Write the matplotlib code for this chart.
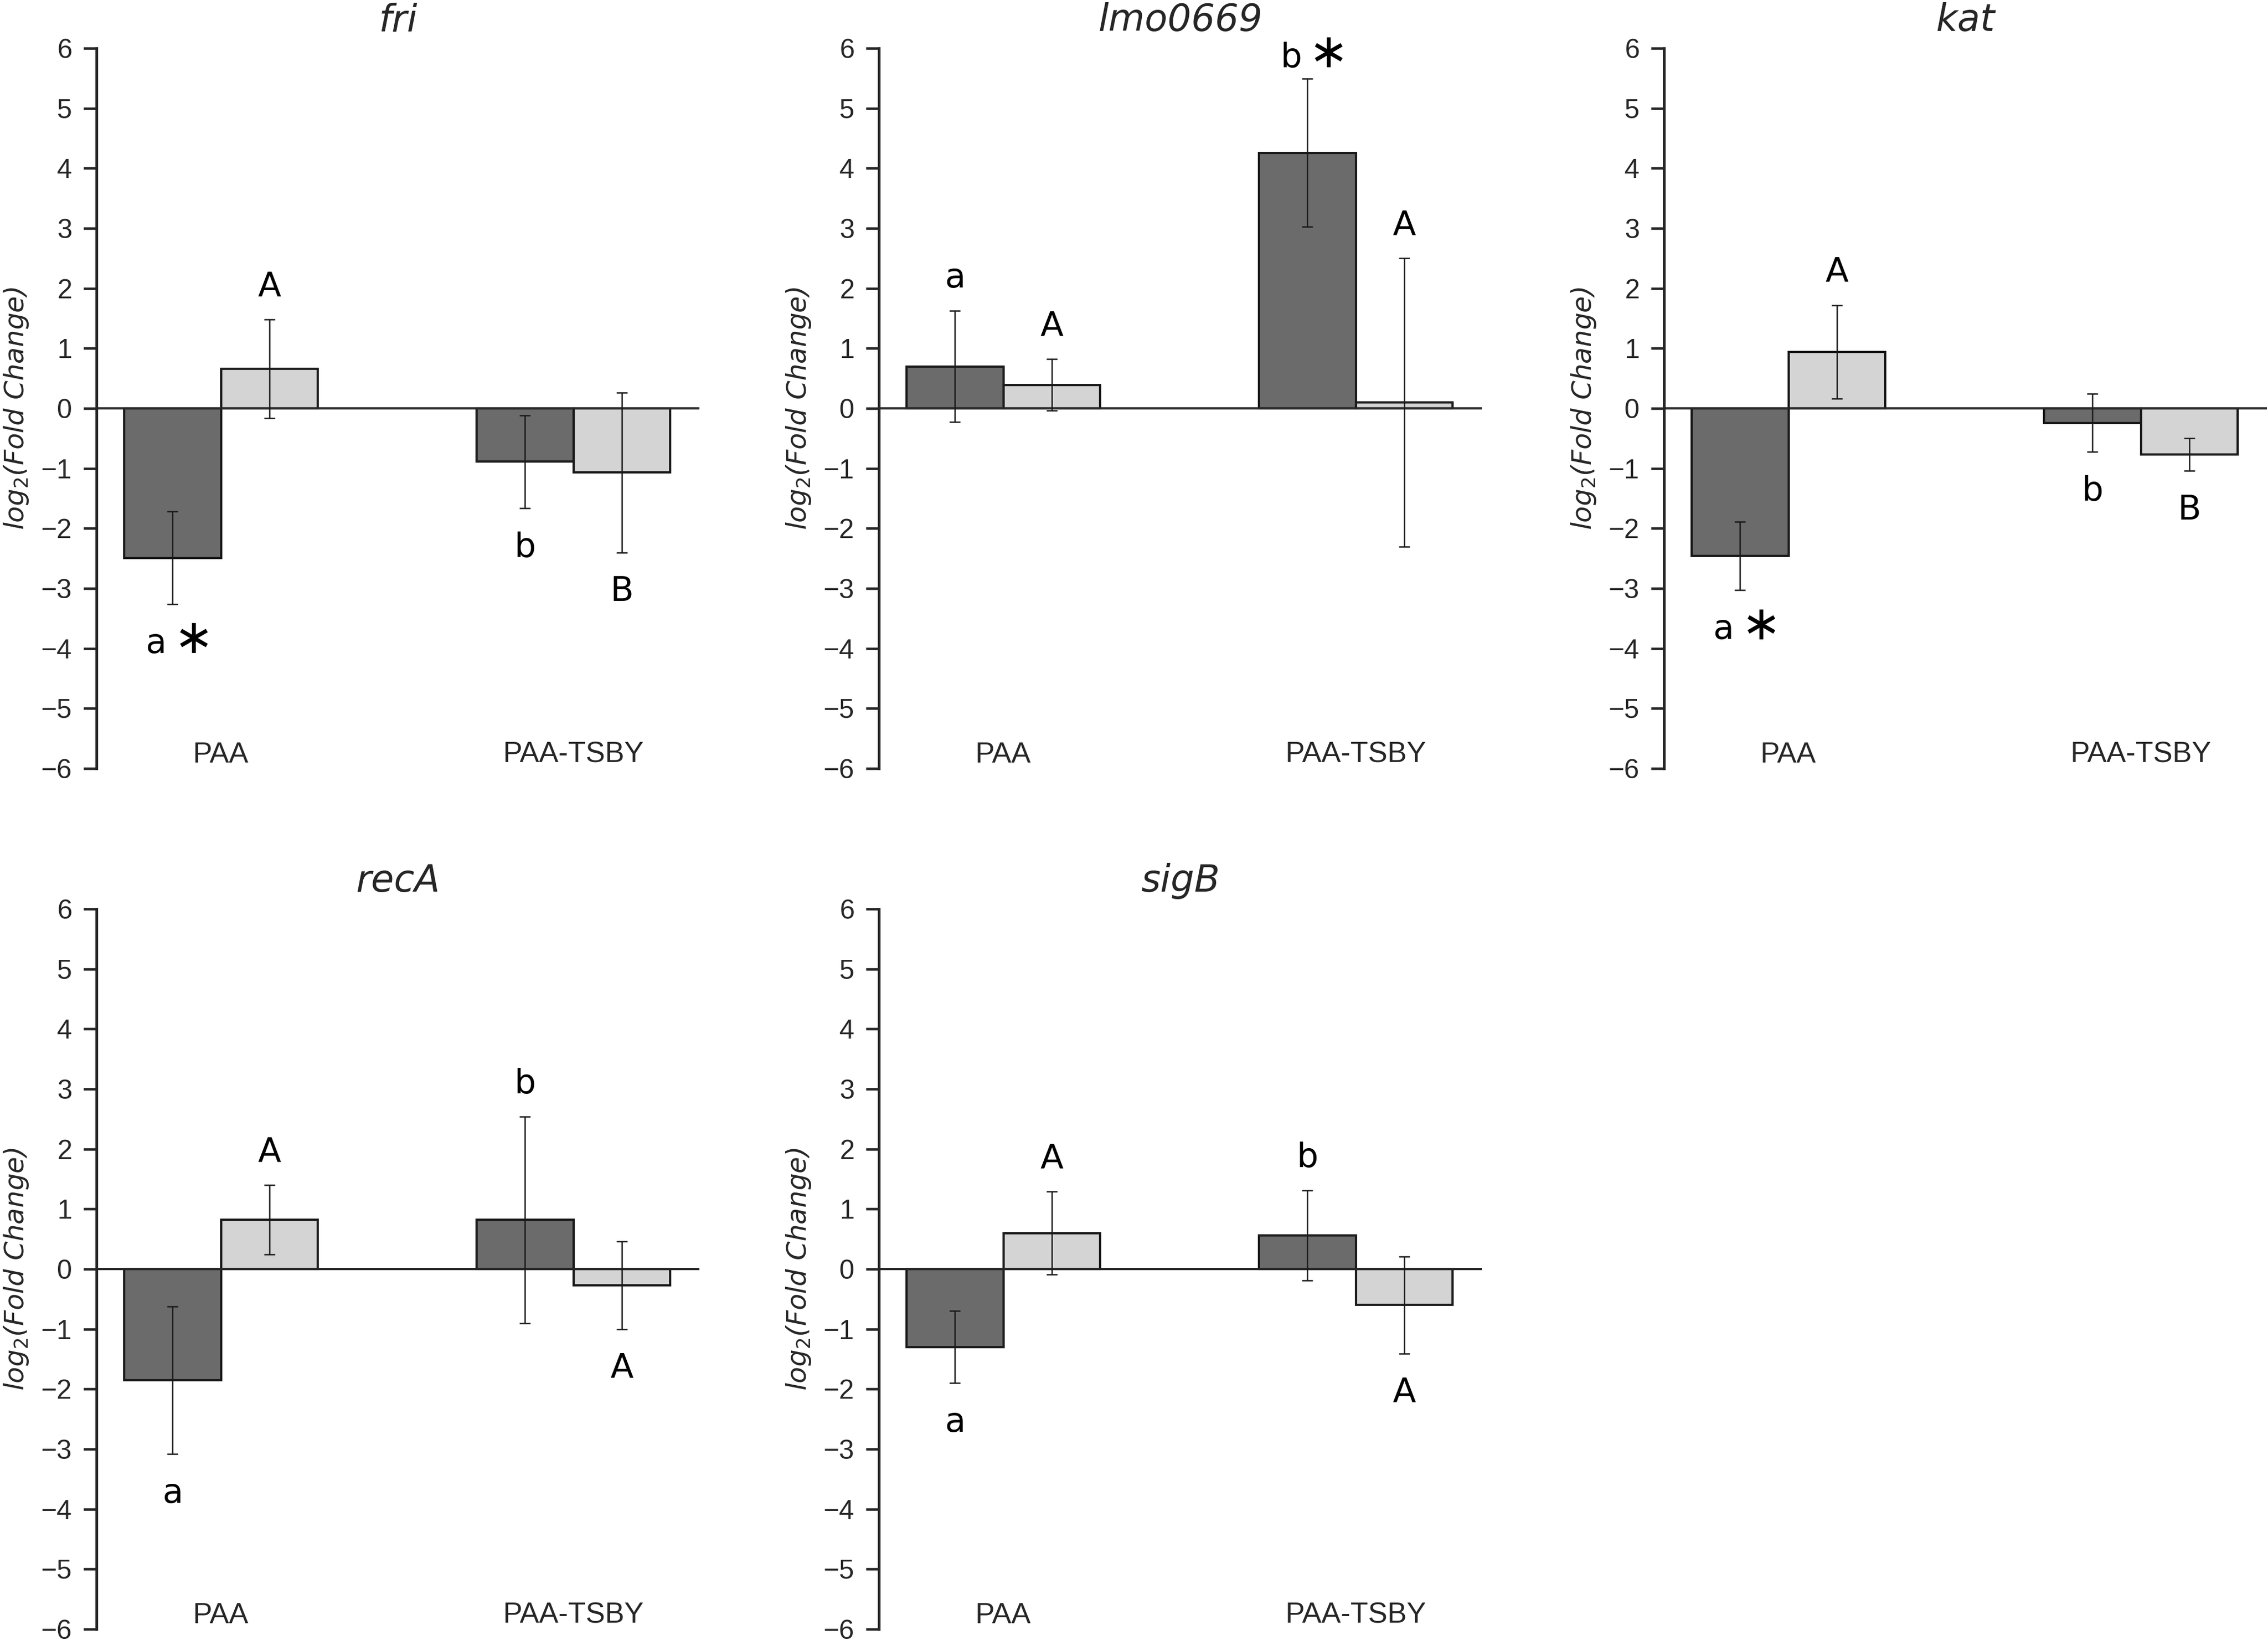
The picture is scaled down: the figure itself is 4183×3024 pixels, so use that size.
import numpy as np
import matplotlib
matplotlib.use("Agg")
import matplotlib.pyplot as plt

# values (log2 fold change, mean and +/- error)
genes = ["fri", "lmo0669", "kat", "recA", "sigB"]
treatments = ["PAA", "PAA-TSBY"]

dark_means = [[-2.49, -0.89], [0.70, 4.26], [-2.46, -0.24], [-1.85, 0.82], [-1.30, 0.56]]
dark_errs = [[0.77, 0.77], [0.93, 1.23], [0.57, 0.48], [1.23, 1.72], [0.60, 0.75]]
light_means = [[0.66, -1.07], [0.39, 0.10], [0.94, -0.77], [0.82, -0.27], [0.60, -0.60]]
light_errs = [[0.82, 1.33], [0.43, 2.40], [0.78, 0.27], [0.58, 0.73], [0.69, 0.81]]

dark_letters = [["a", "b"], ["a", "b"], ["a", "b"], ["a", "b"], ["a", "b"]]
light_letters = [["A", "B"], ["A", "A"], ["A", "B"], ["A", "A"], ["A", "A"]]
dark_stars = [[True, False], [False, True], [True, False], [False, False], [False, False]]

DARK = "#6b6b6b"
LIGHT = "#d4d4d4"
EDGE = "#1a1a1a"
AXC = "#262626"

W, H, DPI = 4183, 3024, 300
LEFTS = [178, 1621, 3069]
BOTTOMS = [1417, 3004]
AX_W, AX_H = 1112, 1328

group_x = np.array([1.285, 4.925])
LETTER_GAP = 0.6


def place_letters(ax, xs, means, errs, letters, stars):
    for x, m, e, lab, st in zip(xs, means, errs, letters, stars):
        if m >= 0:
            y = min(m + e + LETTER_GAP, 5.9)
        else:
            y = m - e - LETTER_GAP
        if st:
            ax.text(x - 0.17, y, lab, ha="center", va="center_baseline",
                    fontsize=15, color="black", family="DejaVu Sans")
            ax.text(x + 0.22, y, "\u2217", ha="center", va="center",
                    fontsize=21, color="black", family="DejaVu Sans")
        else:
            ax.text(x, y, lab, ha="center", va="center_baseline",
                    fontsize=15, color="black", family="DejaVu Sans")


fig = plt.figure(figsize=(W / DPI, H / DPI), dpi=DPI)
plt.rcParams["mathtext.fontset"] = "dejavusans"

for i, gene in enumerate(genes):
    row, col = divmod(i, 3)
    ax = fig.add_axes([LEFTS[col] / W, 1 - BOTTOMS[row] / H, AX_W / W, AX_H / H])

    xd = group_x - 0.5
    xl = group_x + 0.5
    ax.bar(xd, dark_means[i], width=1.0, color=DARK, edgecolor=EDGE, linewidth=1.0, zorder=2)
    ax.bar(xl, light_means[i], width=1.0, color=LIGHT, edgecolor=EDGE, linewidth=1.0, zorder=2)
    ax.errorbar(xd, dark_means[i], yerr=dark_errs[i], fmt="none", ecolor=EDGE,
                elinewidth=0.6, capsize=2.5, capthick=0.6, zorder=4)
    ax.errorbar(xl, light_means[i], yerr=light_errs[i], fmt="none", ecolor=EDGE,
                elinewidth=0.6, capsize=2.5, capthick=0.6, zorder=4)
    ax.axhline(0, color=AXC, linewidth=1.0, zorder=3)

    place_letters(ax, xd, dark_means[i], dark_errs[i], dark_letters[i], dark_stars[i])
    place_letters(ax, xl, light_means[i], light_errs[i], light_letters[i], [False, False])

    for gx, name in zip(group_x, treatments):
        ax.text(gx, -5.77, name, ha="center", va="center", fontsize=12.8,
                color=AXC, family="Liberation Sans")

    ax.set_xlim(0, 6.225)
    ax.set_ylim(-6, 6)
    ax.set_xticks([])
    ax.set_yticks(range(-6, 7))
    ax.set_yticklabels([str(v).replace("-", "\u2212") for v in range(-6, 7)],
                       family="Liberation Sans", fontsize=12, color=AXC)
    ax.tick_params(axis="y", direction="out", length=5.8, width=1.1, pad=5, color=AXC)
    for s in ["top", "right", "bottom"]:
        ax.spines[s].set_visible(False)
    ax.spines["left"].set_linewidth(1.2)
    ax.spines["left"].set_color(AXC)
    ax.patch.set_alpha(0)

    # label anchor is its right edge (rotated text, va=bottom)
    ax.set_ylabel(r"$\mathit{log}_2$(Fold Change)", fontstyle="italic", fontsize=12,
                  color=AXC, family="DejaVu Sans")
    ax.yaxis.set_label_coords(-(LEFTS[0] - 56) / AX_W, 0.5)
    ax.text(0.5, 1.0 + 32 / AX_H, gene, transform=ax.transAxes, ha="center",
            va="baseline", fontsize=16.5, fontstyle="italic", color=AXC,
            family="DejaVu Sans")

fig.savefig("out.png", dpi=DPI, facecolor="white")
